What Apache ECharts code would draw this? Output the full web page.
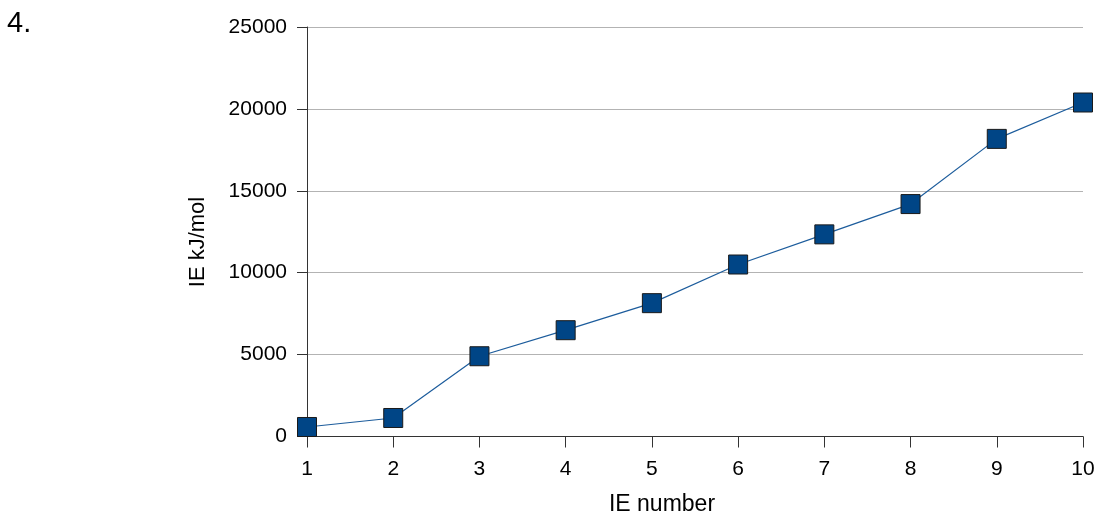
<!DOCTYPE html>
<html>
<head>
<meta charset="utf-8">
<script src="https://cdn.jsdelivr.net/npm/echarts@6/dist/echarts.min.js"></script>
<style>
html,body{margin:0;padding:0;background:#fff;}
#chart{width:1098px;height:515px;}
</style>
</head>
<body>
<div id="chart"></div>
<script>
const ieNumbers = [1, 2, 3, 4, 5, 6, 7, 8, 9, 10];
const ieValues = [580, 1130, 4900, 6490, 8140, 10500, 12340, 14190, 18170, 20390];
const xTitle = 'IE number';
const yTitle = 'IE kJ/mol';
const heading = '4.';

const chart = echarts.init(document.getElementById('chart'), null, {renderer: 'canvas'});
const font = '"Liberation Sans", Arial, sans-serif';
chart.setOption({
  animation: false,
  backgroundColor: '#ffffff',
  graphic: [{
    type: 'text', left: 7, top: 9,
    style: {text: heading, font: '29px ' + font, fill: '#000'}
  }, {
    type: 'text', x: 198, y: 242, rotation: Math.PI / 2,
    style: {text: yTitle, font: '22px ' + font, fill: '#000', textAlign: 'center', textVerticalAlign: 'middle'}
  }, {
    type: 'text', x: 662, y: 505,
    style: {text: xTitle, font: '23px ' + font, fill: '#000', textAlign: 'center', textVerticalAlign: 'middle'}
  }],
  grid: {left: 307, right: 15, top: 27, bottom: 78.5, containLabel: false, outerBoundsMode: 'none'},
  xAxis: {
    type: 'value', min: 1, max: 10, interval: 1,
    axisLine: {show: true, lineStyle: {color: '#333', width: 1}},
    axisTick: {show: true, length: 11, lineStyle: {color: '#333'}},
    axisLabel: {fontFamily: font, fontSize: 21, color: '#000', margin: 22},
    splitLine: {show: false}
  },
  yAxis: {
    type: 'value', min: 0, max: 25000, interval: 5000,
    axisLine: {show: true, lineStyle: {color: '#333', width: 1}},
    axisTick: {show: true, length: 10, lineStyle: {color: '#333'}},
    axisLabel: {fontFamily: font, fontSize: 21, color: '#000', margin: 20, formatter: v => String(v)},
    splitLine: {show: true, lineStyle: {color: '#b3b3b3', width: 1}}
  },
  series: [{
    type: 'line',
    data: ieNumbers.map((x, i) => [x, ieValues[i]]),
    symbol: 'rect', symbolSize: 19,
    lineStyle: {color: '#1c5c9c', width: 1.2},
    itemStyle: {color: '#004586', borderColor: '#1a1a1a', borderWidth: 1},
    clip: false
  }]
});
</script>
</body>
</html>
